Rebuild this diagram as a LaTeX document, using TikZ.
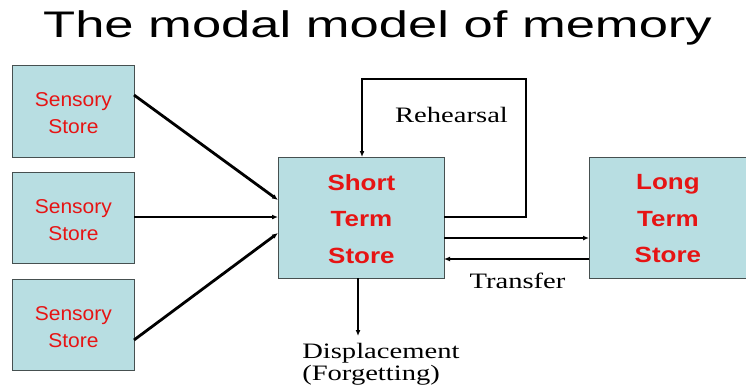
\documentclass[tikz,border=0pt]{standalone}
\usepackage{fontspec}
\setmainfont{Liberation Serif}
\newfontfamily\arialf{Liberation Sans}
\usetikzlibrary{arrows.meta}
\definecolor{boxfill}{RGB}{184,222,226}
\definecolor{boxline}{RGB}{70,80,80}
\definecolor{txtred}{RGB}{230,20,20}
\tikzset{
  storebox/.style={draw=boxline, line width=0.8pt, fill=boxfill, inner sep=0pt, anchor=north west},
  smalltxt/.style={font=\arialf\fontsize{20}{27}\selectfont, text=txtred, align=center, xscale=1.05},
  bigtxt/.style={font=\arialf\bfseries\fontsize{22}{36.5}\selectfont, text=txtred, align=center, xscale=1.18},
  conn/.style={line width=2.8pt, -{Latex[length=6pt,width=5pt]}},
  lbl/.style={font=\fontsize{22}{22}\selectfont, inner sep=0pt, xscale=1.3}
}
\begin{document}
\begin{tikzpicture}[x=1pt,y=-1pt]
\useasboundingbox (0,0) rectangle (746,386);
\node[font=\arialf\fontsize{37}{40}\selectfont, inner sep=0pt, anchor=base, xscale=1.42] (title) at (377.5,37) {The modal model of memory};
\node[storebox, minimum width=122pt, minimum height=92pt] (s1) at (12,65) {};
\node[smalltxt] (t1) at ([yshift=-2pt]s1.center) {Sensory\\Store};
\node[storebox, minimum width=122pt, minimum height=91pt] (s2) at (12,172) {};
\node[smalltxt] (t2) at ([yshift=-2pt]s2.center) {Sensory\\Store};
\node[storebox, minimum width=122pt, minimum height=91pt] (s3) at (12,279) {};
\node[smalltxt] (t3) at ([yshift=-2pt]s3.center) {Sensory\\Store};
\node[storebox, minimum width=166pt, minimum height=121pt] (sts) at (278,157) {};
\node[bigtxt] (tsts) at ([yshift=-1pt]sts.center) {Short\\Term\\Store};
\node[storebox, minimum width=157pt, minimum height=121pt] (lts) at (589,157) {};
\node[bigtxt] (tlts) at ([yshift=-1pt]lts.center) {Long\\Term\\Store};
\coordinate (s1o) at (134,95);
\coordinate (s2o) at (134,217);
\coordinate (s3o) at (134,340);
\coordinate (i1) at (278,200);
\coordinate (i2) at (278,217);
\coordinate (i3) at (278,233);
\draw[conn] (s1o) -- (i1);
\draw[conn] (s2o) -- (i2);
\draw[conn] (s3o) -- (i3);
\coordinate (r0) at (444,217);
\coordinate (r1) at (526,217);
\coordinate (r2) at (526,79);
\coordinate (r3) at (362,79);
\coordinate (r4) at (362,157);
\draw[conn] (r0) -- (r1) -- (r2) -- (r3) -- (r4);
\node[lbl, anchor=base] (reh) at (451.5,122) {Rehearsal};
\coordinate (t0) at (444,238);
\coordinate (tt1) at (589,238);
\draw[conn] (t0) -- (tt1);
\coordinate (b0) at (589,259);
\coordinate (b1) at (444,259);
\draw[conn] (b0) -- (b1);
\node[lbl, anchor=base] (tr) at (517.5,288) {Transfer};
\coordinate (d0) at (358,278);
\coordinate (d1) at (358,336);
\draw[conn] (d0) -- (d1);
\node[lbl, anchor=base west] (disp) at (302,358) {Displacement};
\node[lbl, anchor=base west] (forg) at (302,380) {(Forgetting)};
\end{tikzpicture}
\end{document}
